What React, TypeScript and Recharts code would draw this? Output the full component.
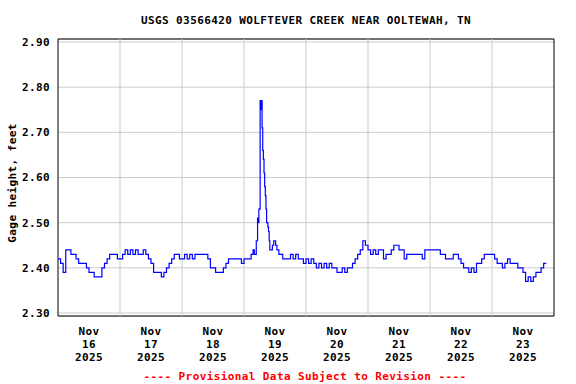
import React from 'react';
import { LineChart, Line, XAxis, YAxis, CartesianGrid, ReferenceLine, ReferenceArea } from 'recharts';

const TITLE = 'USGS 03566420 WOLFTEVER CREEK NEAR OOLTEWAH, TN';
const Y_LABEL = 'Gage height, feet';
const FOOTER = '---- Provisional Data Subject to Revision ----';

const MONTH = 'Nov';
const YEAR = '2025';
const dayLabels = ['16', '17', '18', '19', '20', '21', '22', '23'];
const yTicks = [2.3, 2.4, 2.5, 2.6, 2.7, 2.8, 2.9];

// gage height, read hourly (hours since Nov 16 00:00)
const nov16 = [2.42, 2.41, 2.39, 2.44, 2.44, 2.43, 2.43, 2.42, 2.41, 2.41, 2.41, 2.40, 2.39, 2.39, 2.38, 2.38, 2.38, 2.40, 2.41, 2.42, 2.43, 2.43, 2.43, 2.42];
const nov17 = [2.42, 2.43, 2.44, 2.43, 2.44, 2.43, 2.44, 2.43, 2.43, 2.44, 2.43, 2.42, 2.41, 2.39, 2.39, 2.39, 2.38, 2.39, 2.40, 2.41, 2.42, 2.43, 2.43, 2.42];
const nov18 = [2.42, 2.43, 2.42, 2.43, 2.42, 2.43, 2.43, 2.43, 2.43, 2.43, 2.42, 2.40, 2.40, 2.39, 2.39, 2.39, 2.40, 2.41, 2.42, 2.42, 2.42, 2.42, 2.42, 2.41];
// storm day: [hour, value], finer around the peak
const nov19: [number, number][] = [
  [72, 2.42], [73, 2.42], [74, 2.42], [74.75, 2.43], [75.5, 2.44], [76, 2.43], [76.75, 2.46],
  [77.25, 2.51], [77.5, 2.50], [77.75, 2.53], [78.25, 2.77], [78.5, 2.75], [78.75, 2.77],
  [79, 2.71], [79.25, 2.66], [79.5, 2.64], [79.75, 2.61], [80, 2.58], [80.25, 2.56],
  [80.5, 2.53], [80.75, 2.50], [81.25, 2.49], [81.5, 2.48], [81.75, 2.46], [82, 2.44],
  [83, 2.45], [83.5, 2.46], [84.25, 2.45], [84.75, 2.44], [85.5, 2.43], [87, 2.42],
  [88, 2.42], [89, 2.42], [90, 2.43], [91, 2.42], [92, 2.43], [93, 2.42], [94, 2.42], [95, 2.41],
];
const nov20 = [2.42, 2.41, 2.42, 2.41, 2.40, 2.41, 2.40, 2.41, 2.40, 2.41, 2.40, 2.40, 2.39, 2.39, 2.40, 2.39, 2.40, 2.40, 2.41, 2.42, 2.43, 2.44, 2.46, 2.45];
const nov21 = [2.44, 2.43, 2.44, 2.43, 2.44, 2.44, 2.42, 2.43, 2.43, 2.44, 2.45, 2.45, 2.44, 2.44, 2.42, 2.43, 2.43, 2.43, 2.43, 2.43, 2.43, 2.42, 2.44, 2.44];
const nov22 = [2.44, 2.44, 2.44, 2.44, 2.43, 2.43, 2.42, 2.42, 2.42, 2.43, 2.43, 2.42, 2.41, 2.40, 2.40, 2.39, 2.40, 2.39, 2.41, 2.41, 2.42, 2.43, 2.43, 2.43];
const nov23 = [2.43, 2.42, 2.41, 2.41, 2.40, 2.41, 2.42, 2.41, 2.41, 2.41, 2.40, 2.40, 2.39, 2.37, 2.38, 2.37, 2.38, 2.39, 2.39, 2.40, 2.41, 2.41];

const hourly = (start: number, values: number[]) => values.map((v, i) => ({ t: start + i, v }));

const data = [
  ...hourly(0, nov16),
  ...hourly(24, nov17),
  ...hourly(48, nov18),
  ...nov19.map(([t, v]) => ({ t, v })),
  ...hourly(96, nov20),
  ...hourly(120, nov21),
  ...hourly(144, nov22),
  ...hourly(168, nov23),
];

const Y_MIN = 2.2934;
const Y_MAX = 2.9066;
const X_MAX = dayLabels.length * 24;
const noonTicks = dayLabels.map((_, i) => i * 24 + 12);
const midnights = dayLabels.slice(1).map((_, i) => (i + 1) * 24);

const FONT = "'DejaVu Sans Mono', monospace";
const textStyle = { fontFamily: FONT, fontWeight: 'bold' as const, fontSize: 11, letterSpacing: 0.4 };

const DayTick = ({ x, y, payload }: any) => {
  const idx = Math.round((payload.value - 12) / 24);
  return (
    <text x={x} y={y} textAnchor="middle" fill="#000" style={textStyle}>
      <tspan x={x} dy={11}>{MONTH}</tspan>
      <tspan x={x} dy={13}>{dayLabels[idx]}</tspan>
      <tspan x={x} dy={13}>{YEAR}</tspan>
    </text>
  );
};

export default function App() {
  return (
    <div style={{ position: 'absolute', left: 0, top: 0, width: 576, height: 384, background: '#fff' }}>
      <LineChart width={576} height={384} data={data} margin={{ top: 39, right: 22, bottom: 0, left: 0 }}>
        <CartesianGrid vertical={false} stroke="#cccccc" />
        {midnights.map((m) => (
          <ReferenceLine key={m} x={m} stroke="#cccccc" />
        ))}
        <XAxis
          dataKey="t"
          type="number"
          domain={[0, X_MAX]}
          ticks={noonTicks}
          interval={0}
          height={68}
          tick={<DayTick />}
          tickLine={false}
          axisLine={false}
          allowDataOverflow
        />
        <YAxis
          type="number"
          domain={[Y_MIN, Y_MAX]}
          ticks={yTicks}
          interval={0}
          width={58}
          tickLine={false}
          axisLine={false}
          allowDataOverflow
          tickFormatter={(v: number) => v.toFixed(2)}
          tick={{ fill: '#000', ...textStyle }}
        />
        <Line
          type="stepAfter"
          dataKey="v"
          stroke="#0000ff"
          strokeWidth={1.2}
          dot={false}
          isAnimationActive={false}
        />
        <ReferenceArea x1={0} x2={X_MAX} y1={Y_MIN} y2={Y_MAX} fill="none" stroke="#000" strokeWidth={1} />
      </LineChart>
      <svg width={576} height={384} style={{ position: 'absolute', left: 0, top: 0, pointerEvents: 'none' }}>
        <text x={306} y={24} textAnchor="middle" fill="#000" style={textStyle}>{TITLE}</text>
        <text x={16} y={183} textAnchor="middle" fill="#000" transform="rotate(-90 16 183)" style={textStyle}>{Y_LABEL}</text>
        <text x={305} y={380} textAnchor="middle" fill="#ff0000" style={textStyle}>{FOOTER}</text>
      </svg>
    </div>
  );
}
